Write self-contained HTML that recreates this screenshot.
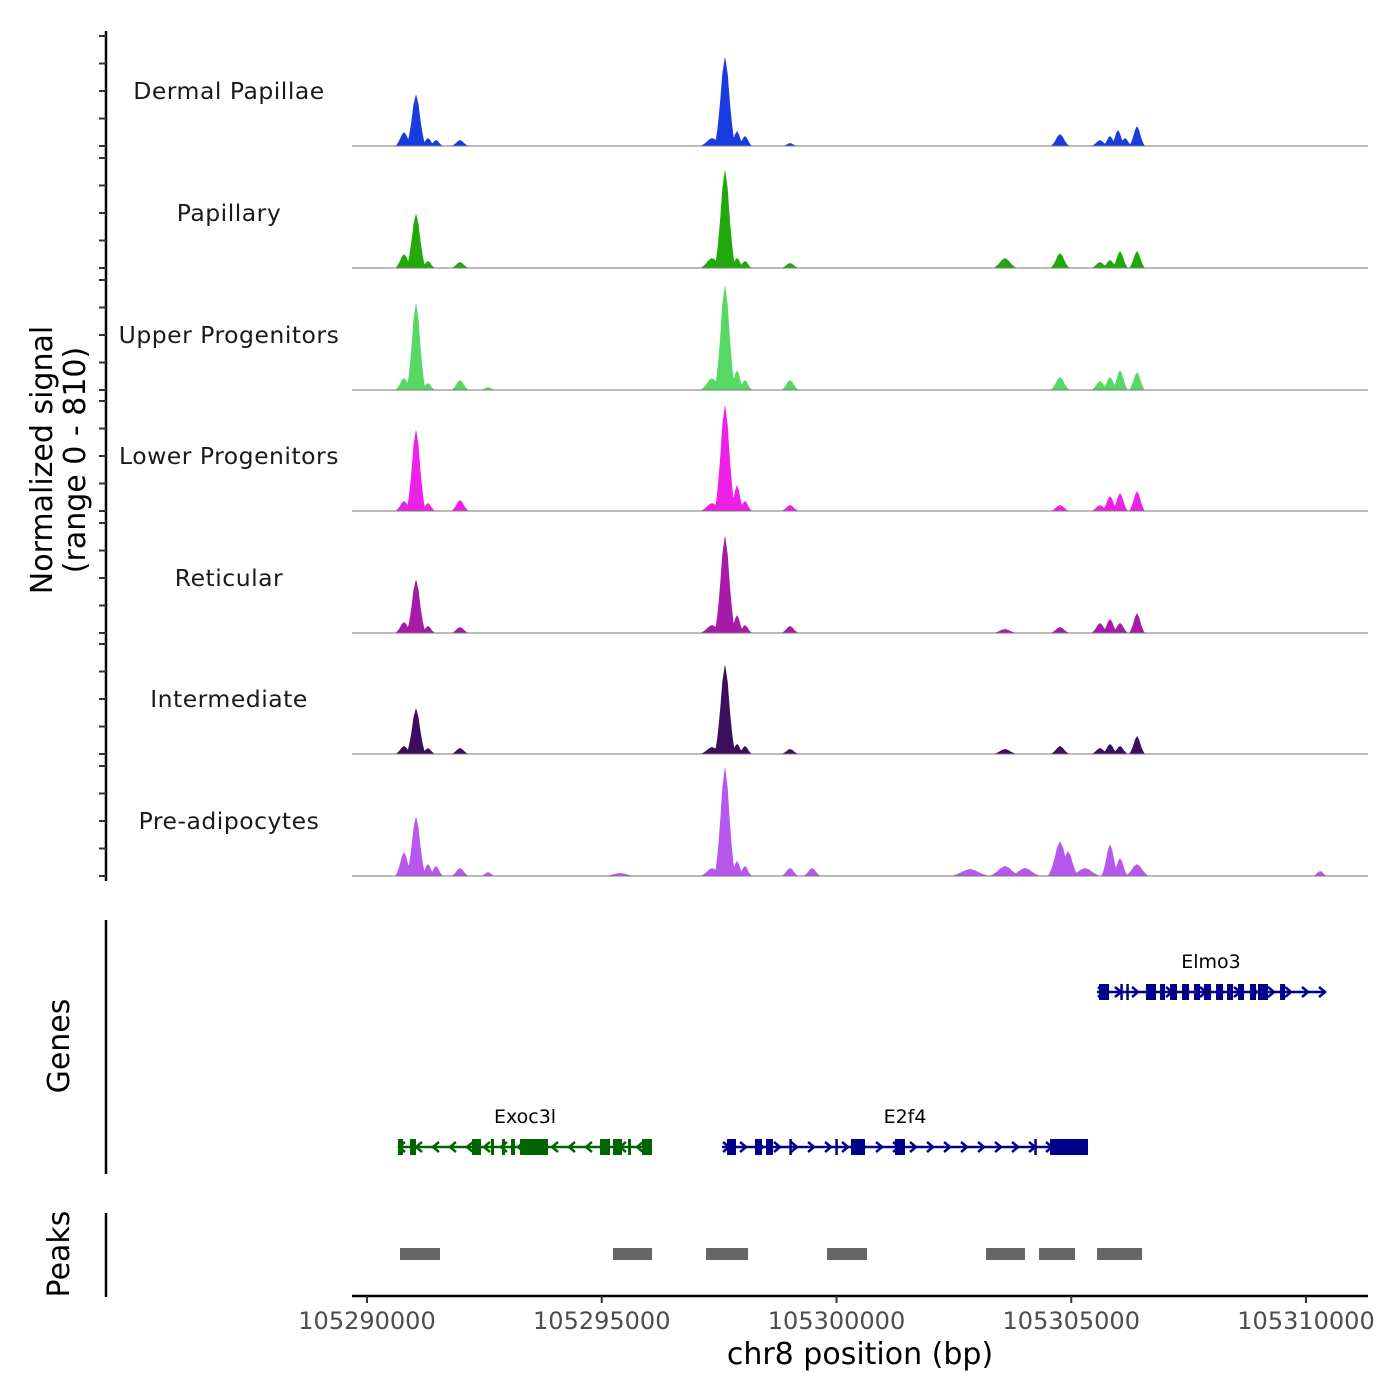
<!DOCTYPE html>
<html><head><meta charset="utf-8"><style>
html,body{margin:0;padding:0;background:#fff;}
svg{display:block;font-family:"DejaVu Sans","Liberation Sans",sans-serif;}
</style></head><body>
<svg id="chart" width="1400" height="1400" viewBox="0 0 1400 1400" xmlns="http://www.w3.org/2000/svg">
<g id="tracks"></g>
<g id="genes"></g>
<g id="peaks"></g>
<g id="axes"></g>
<text transform="translate(52,460) rotate(-90)" text-anchor="middle" font-size="30" fill="#000">Normalized signal</text>
<text transform="translate(85,460) rotate(-90)" text-anchor="middle" font-size="30" fill="#000">(range 0 - 810)</text>
<text transform="translate(69,1046) rotate(-90)" text-anchor="middle" font-size="30" fill="#000">Genes</text>
<text transform="translate(69,1254) rotate(-90)" text-anchor="middle" font-size="30" fill="#000">Peaks</text>
<text x="860" y="1364" text-anchor="middle" font-size="30" fill="#000">chr8 position (bp)</text>
</svg>
<script>
const START = 105290000;
const trackNames = ["Dermal Papillae","Papillary","Upper Progenitors","Lower Progenitors","Reticular","Intermediate","Pre-adipocytes"];
const trackColors = ["#1a3be0","#21a80b","#55d962","#ee1fe6","#a81aa8","#3b0f5c","#b757ee"];
const yMax = 810;
// peaks: [offset bp from START, value, half-width bp]
const dermalPeaks = [[788,103,110],[1044,383,120],[1299,59,90],[1470,44,90],[1981,44,110],[7349,59,150],[7625,662,130],[7881,110,90],[8051,74,90],[9010,22,90],[14761,88,120],[15613,44,110],[15826,74,90],[15996,118,90],[16145,59,90],[16401,147,100]];
const papillaryPeaks = [[788,103,110],[1044,405,120],[1299,52,90],[1981,44,110],[7349,74,150],[7625,729,130],[7881,74,90],[8051,52,90],[9010,37,110],[13589,74,150],[14761,110,120],[15613,44,110],[15826,59,100],[16039,125,100],[16401,125,100]];
const upperPeaks = [[788,88,110],[1044,648,120],[1299,52,90],[1981,74,110],[2577,22,90],[7349,88,150],[7625,780,130],[7881,147,90],[8051,74,90],[9010,74,110],[14761,96,120],[15613,66,110],[15826,96,100],[16039,147,100],[16401,132,100]];
const lowerPeaks = [[788,74,110],[1044,604,120],[1299,59,90],[1981,81,110],[7349,59,150],[7625,788,130],[7881,191,90],[8051,74,90],[9010,44,110],[14761,44,120],[15613,44,110],[15826,110,100],[16039,132,100],[16401,147,100]];
const reticularPeaks = [[788,81,110],[1044,397,120],[1299,52,90],[1981,44,110],[7349,59,150],[7625,721,130],[7881,132,90],[8051,59,90],[9010,52,110],[13589,29,150],[14761,44,120],[15613,74,110],[15826,103,100],[16039,74,100],[16401,147,100]];
const intermediatePeaks = [[788,59,110],[1044,339,120],[1299,44,90],[1981,44,110],[7349,52,150],[7625,662,130],[7881,74,90],[8051,59,90],[9010,37,110],[13589,37,150],[14761,59,120],[15613,44,110],[15826,74,100],[16039,59,100],[16401,132,100]];
const preadipPeaks = [[788,177,110],[1044,442,120],[1299,88,90],[1470,74,90],[1981,59,110],[2577,29,90],[5389,22,200],[7349,59,150],[7625,810,130],[7881,110,90],[8051,74,90],[9010,59,110],[9479,59,110],[12844,52,250],[13589,74,200],[14015,59,200],[14761,258,150],[14931,184,130],[15293,59,200],[15826,236,110],[16039,133,100],[16401,88,150],[20299,37,90]];
const allPeaks = [dermalPeaks,papillaryPeaks,upperPeaks,lowerPeaks,reticularPeaks,intermediatePeaks,preadipPeaks];
const baselines = [146,268,390,511,633,754,876];
const xTicks = [105290000,105295000,105300000,105305000,105310000];
const geneNames = ["Exoc3l","E2f4","Elmo3"];
const geneStrands = [-1,1,1];
const geneStarts = [660,7562,15549];
const geneEnds = [6071,15357,20405];
const exoc3lExons = [[660,767],[916,1044],[2237,2428],[2641,2705],[2876,2939],[3067,3152],[3259,3855],[4963,5176],[5240,5432],[5559,5623],[5858,6071]];
const e2f4Exons = [[7668,7860],[8264,8414],[8499,8648],[8995,9025],[9975,10005],[10309,10607],[11246,11459],[14213,14243],[14548,15357]];
const elmo3Exons = [[15592,15805],[16045,16075],[16173,16203],[16593,16806],[16891,16997],[17104,17253],[17360,17509],[17615,17743],[17828,17977],[18084,18233],[18318,18446],[18552,18680],[18808,18936],[18978,19191],[19447,19553]];
const geneExons = [exoc3lExons,e2f4Exons,elmo3Exons];
const peakStarts = [703,5240,7221,9798,13185,14313,15549];
const peakEnds = [1555,6071,8116,10650,14015,15080,16508];

const NS="http://www.w3.org/2000/svg";
const px0=367, pxPerBp=(1306-367)/20000;
function xs(off){return px0+off*pxPerBp;}
function ys(v,base){return base - v/yMax*110;}
function mk(tag,attrs,parent){const e=document.createElementNS(NS,tag);for(const k in attrs)e.setAttribute(k,attrs[k]);parent.appendChild(e);return e;}
const tracks=document.getElementById('tracks');
const leftOff=(352-px0)/pxPerBp, rightOff=(1368-px0)/pxPerBp;
allPeaks.forEach((pk,i)=>{
  const g=mk('g',{},tracks);
  
  
  const base=baselines[i];
  let d='M'+xs(leftOff)+','+base;
  for(let o=leftOff;o<=rightOff;o+=10){
    let v=0;
    pk.forEach(p=>{const w=p[2]*1.8;const dd=Math.abs(o-p[0]);if(dd<w){const t=dd/w;const k=(t<0.25?1-0.8*t:0.8*Math.pow((1-t)/0.75,1.6)+0)*p[1];if(k>v)v=k;}});
    d+=' L'+xs(o).toFixed(1)+','+ys(v,base).toFixed(1);
  }
  d+=' L'+xs(rightOff)+','+base+' Z';
  const area=mk('path',{d:d,fill:trackColors[i],stroke:'none'},g);
  
  
  const bl=mk('line',{x1:352,x2:1368,y1:base,y2:base,stroke:'#777','stroke-width':1},g);
  
  
  const lab=mk('text',{x:229,y:base-47,'text-anchor':'middle','font-size':23.5,fill:'#1a1a1a','letter-spacing':'0.5'},g);
  lab.textContent=trackNames[i];
  
  
});
const genes=document.getElementById('genes');
const geneY=[1147,1147,992];
geneNames.forEach((n,i)=>{
  const g=mk('g',{},genes);
  
  
  const col=geneStrands[i]>0?'#00008b':'#006400';
  const y=geneY[i], x1=xs(geneStarts[i]), x2=xs(geneEnds[i]);
  mk('line',{x1:x1,x2:x2,y1:y,y2:y,stroke:col,'stroke-width':2.5},g);
  const s=geneStrands[i];
  for(let x=x1+4;x<=x2;x+=17){
    mk('polyline',{points:`${x-3*s},${y-5} ${x+3*s},${y} ${x-3*s},${y+5}`,fill:'none',stroke:col,'stroke-width':2.5},g);
  }
  geneExons[i].forEach(e=>{
    const r=mk('rect',{x:xs(e[0]),y:y-8,width:Math.max(2.5,xs(e[1])-xs(e[0])),height:16,fill:col},g);
    
    
  });
  const t=mk('text',{x:(x1+x2)/2,y:y-24,'text-anchor':'middle','font-size':19,fill:'#000'},g);
  t.textContent=n;
  
  
});
const peaksG=document.getElementById('peaks');
peakStarts.forEach((s,i)=>{
  const r=mk('rect',{x:xs(s),y:1248,width:xs(peakEnds[i])-xs(s),height:12,fill:'#666'},peaksG);
  
  
});
const axes=document.getElementById('axes');
mk('line',{x1:106,x2:106,y1:31,y2:881,stroke:'#000','stroke-width':2.5},axes);
baselines.forEach(b=>{for(let k=0;k<5;k++){const yy=b-k*27.5;mk('line',{x1:99,x2:106,y1:yy,y2:yy,stroke:'#333','stroke-width':2},axes);}});
mk('line',{x1:106,x2:106,y1:920,y2:1174,stroke:'#000','stroke-width':2.5},axes);
mk('line',{x1:106,x2:106,y1:1213,y2:1297,stroke:'#000','stroke-width':2.5},axes);
mk('line',{x1:352,x2:1368,y1:1296,y2:1296,stroke:'#000','stroke-width':2.5},axes);
xTicks.forEach(t=>{
  const x=xs(t-START);
  mk('line',{x1:x,x2:x,y1:1296,y2:1303,stroke:'#333','stroke-width':2},axes);
  const tl=mk('text',{x:x,y:1329,'text-anchor':'middle','font-size':24,fill:'#4d4d4d'},axes);
  tl.textContent=String(t);
  
  
});
</script>
</body></html>
